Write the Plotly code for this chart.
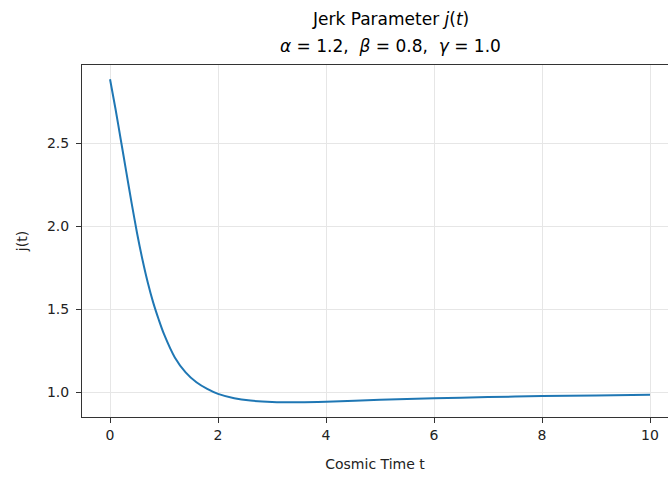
import plotly.graph_objects as go

# Data
t_vals = [0.0, 0.1, 0.2, 0.3, 0.4, 0.5, 0.6, 0.7, 0.8, 0.9, 1.0, 1.2, 1.4, 1.6,
          1.8, 2.0, 2.3, 2.6, 3.0, 3.5, 4.0, 5.0, 6.0, 7.0, 8.0, 9.0, 10.0]
j_vals = [2.886, 2.71, 2.52, 2.33, 2.14, 1.96, 1.80, 1.66, 1.54, 1.44, 1.35, 1.21, 1.12, 1.06,
          1.02, 0.99, 0.964, 0.950, 0.942, 0.940, 0.943, 0.955, 0.964, 0.971, 0.977, 0.981, 0.985]
x_ticks = [0, 2, 4, 6, 8, 10]
y_ticks = [1.0, 1.5, 2.0, 2.5]
y_tick_text = ["1.0", "1.5", "2.0", "2.5"]
title_line1 = "Jerk Parameter <i>j</i>(<i>t</i>)"
title_line2 = "<i>α</i> = 1.2,  <i>β</i> = 0.8,  <i>γ</i> = 1.0"

FONT = "DejaVu Sans"
TX = 0.5256

fig = go.Figure()
fig.add_trace(go.Scatter(x=t_vals, y=j_vals, mode="lines",
                         line=dict(color="#1f77b4", width=2, shape="spline", smoothing=0.8),
                         showlegend=False))

fig.update_layout(
    width=668, height=477,
    margin=dict(l=82, r=0, t=65, b=60),
    paper_bgcolor="white", plot_bgcolor="white",
    font=dict(family=FONT, size=14, color="black"),
)
fig.add_annotation(text=title_line1, xref="paper", yref="paper", x=TX, y=1.0,
                   xanchor="center", yanchor="bottom", yshift=34, showarrow=False,
                   font=dict(family=FONT, size=17, color="black"))
fig.add_annotation(text=title_line2, xref="paper", yref="paper", x=TX, y=1.0,
                   xanchor="center", yanchor="bottom", yshift=7, showarrow=False,
                   font=dict(family=FONT, size=17, color="black"))

fig.update_xaxes(
    range=[-0.519, 10.333],
    tickvals=x_ticks, ticktext=[str(v) for v in x_ticks],
    showline=True, linecolor="#333333", linewidth=1.1, mirror=True,
    ticks="outside", ticklen=5, tickwidth=1.1, tickcolor="#333333",
    showgrid=True, gridcolor="#e6e6e6", gridwidth=1,
    zeroline=False,
    tickfont=dict(family=FONT, size=14, color="#222222"),
    title=dict(text="Cosmic Time t", standoff=17,
               font=dict(family=FONT, size=14, color="#222222")),
)
fig.update_yaxes(
    range=[0.851, 2.972],
    tickvals=y_ticks, ticktext=y_tick_text,
    showline=True, linecolor="#333333", linewidth=1.1, mirror=False,
    ticks="outside", ticklen=5, tickwidth=1.1, tickcolor="#333333",
    showgrid=True, gridcolor="#e6e6e6", gridwidth=1,
    zeroline=False, ticklabelstandoff=4,
    tickfont=dict(family=FONT, size=14, color="#222222"),
    title=dict(text="j(t)", standoff=15,
               font=dict(family=FONT, size=14, color="#222222")),
)

fig.write_html("out.html")
